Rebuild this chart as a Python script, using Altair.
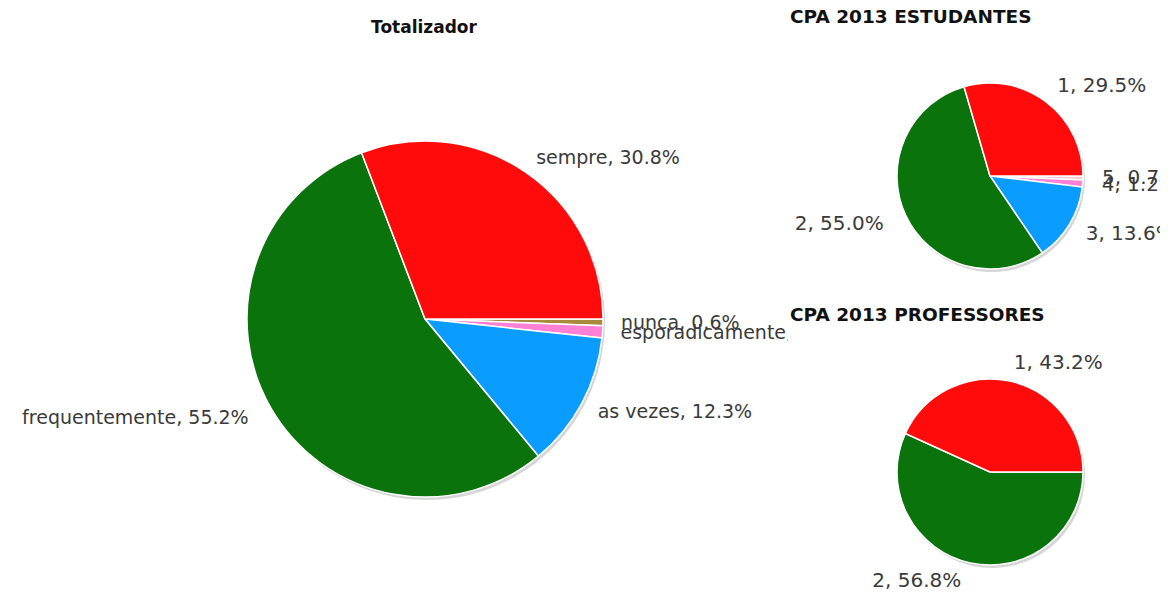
import math
import altair as alt
import pandas as pd

# ---- data ----
main_cats = ["nunca", "esporadicamente", "as vezes", "frequentemente", "sempre"]
main_vals = [0.6, 1.1, 12.3, 55.2, 30.8]
main_colors = ["#a88a3c", "#ff80d4", "#0a9cff", "#0b730b", "#ff0b0b"]

stud_cats = ["5", "4", "3", "2", "1"]
stud_vals = [0.7, 1.2, 13.6, 55.0, 29.5]
stud_colors = ["#f7c6dc", "#ff80d4", "#0a9cff", "#0b730b", "#ff0b0b"]

prof_cats = ["2", "1"]
prof_vals = [56.8, 43.2]
prof_colors = ["#0b730b", "#ff0b0b"]

titles_left = ["Totalizador"]
titles_right = ["CPA 2013 ESTUDANTES", "CPA 2013 PROFESSORES"]

FONT = "DejaVu Sans"
TEXT_COLOR = "#3a3a3a"


def frame(cats, vals):
    return pd.DataFrame({"i": list(range(len(cats))), "cat": cats, "val": vals})


def theta_scale():
    return alt.Scale(range=[math.pi / 2, math.pi / 2 + 2 * math.pi])


def pie(cats, vals, colors, cx, cy, r, rlab, fsize, left_dx):
    df = frame(cats, vals)
    base = (
        alt.Chart(df)
        .transform_joinaggregate(total="sum(val)")
        .transform_window(cum="sum(val)", sort=[alt.SortField("i")], frame=[None, 0])
        .transform_calculate(
            mid="(datum.cum - datum.val / 2) / datum.total",
            label="datum.cat + ', ' + format(datum.val, '.1f') + '%'",
        )
        .encode(
            theta=alt.Theta("val:Q", stack=True, scale=theta_scale()),
            order=alt.Order("i:Q"),
            detail="cat:N",
        )
    )
    shadow = base.mark_arc(radius=r, color="#d6d6d6").encode(
        x=alt.value(cx + 2), y=alt.value(cy + 3)
    )
    arcs = base.mark_arc(radius=r, stroke="white", strokeWidth=1.5).encode(
        x=alt.value(cx),
        y=alt.value(cy),
        color=alt.Color(
            "cat:N", scale=alt.Scale(domain=cats, range=colors), legend=None
        ),
    )
    right = "datum.mid < 0.25 || datum.mid > 0.75"
    left = "!(datum.mid < 0.25 || datum.mid > 0.75)"
    lab_r = base.mark_text(
        radius=rlab, align="left", baseline="middle", font=FONT,
        fontSize=fsize, color=TEXT_COLOR, clip=True,
    ).encode(
        x=alt.value(cx), y=alt.value(cy),
        text=alt.condition(right, alt.Text("label:N"), alt.value("")),
    )
    lab_l = base.mark_text(
        radius=rlab, align="right", baseline="middle", font=FONT,
        fontSize=fsize, color=TEXT_COLOR, clip=True, dx=left_dx,
    ).encode(
        x=alt.value(cx), y=alt.value(cy),
        text=alt.condition(left, alt.Text("label:N"), alt.value("")),
    )
    return [shadow, arcs, lab_r, lab_l]


def title(text, x, y, align, size):
    return (
        alt.Chart(pd.DataFrame({"t": [text]}))
        .mark_text(align=align, baseline="middle", font=FONT, fontSize=size,
                   fontWeight="bold", color="#111111")
        .encode(text="t:N", x=alt.value(x), y=alt.value(y))
    )


left_panel = alt.layer(
    *pie(main_cats, main_vals, main_colors, 417, 311, 178, 196, 19, -7),
    title(titles_left[0], 416, 20, "center", 17),
).resolve_scale(theta="independent", color="independent").properties(
    width=780, height=584
)

right_panel = alt.layer(
    *pie(stud_cats, stud_vals, stud_colors, 200, 168, 93, 112, 20, -5),
    *pie(prof_cats, prof_vals, prof_colors, 200, 464, 93, 112, 20, -5),
    title(titles_right[0], 0, 9, "left", 18.5),
    title(titles_right[1], 0, 307, "left", 18.5),
).resolve_scale(theta="independent", color="independent").properties(
    width=370, height=584
)

chart = (
    alt.hconcat(left_panel, right_panel, spacing=2, bounds="flush")
    .properties(padding=0, autosize=alt.AutoSizeParams(type="pad"), background="white")
    .configure_view(stroke=None)
)

chart.save("out.html", embed_options={"renderer": "svg", "actions": False})
